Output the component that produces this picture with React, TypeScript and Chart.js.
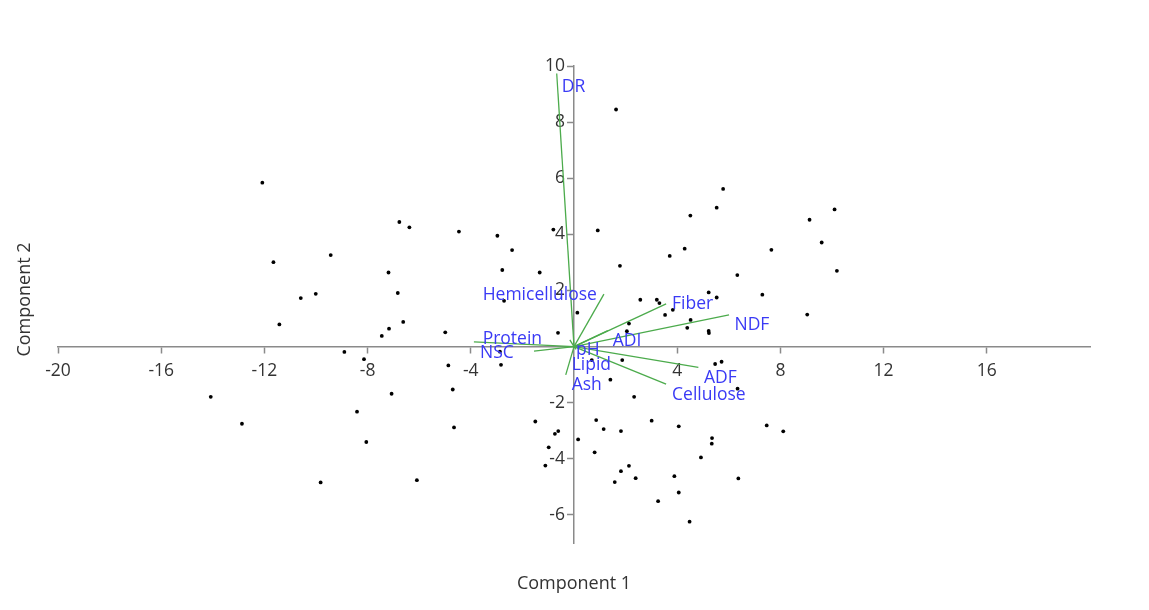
import React, { useEffect, useRef } from "react";
import { Chart, registerables } from "chart.js";

Chart.register(...registerables);

// Sample scores (Component 1, Component 2)
const scoreX = [
  -12.08, -11.65, -9.43, -10.59, -10.01, -11.42, -8.9, -8.14, -14.08, -12.87,
  -8.41, -8.05, -9.82, -6.77, -6.38, -4.46, -2.97, -2.4, -0.8, 0.92,
  -7.19, -2.78, -1.33, -6.83, -2.71, 0.13, -6.62, -7.17, -7.45, -4.99,
  -0.62, -2.87, -4.87, -2.83, 5.78, 5.53, 4.51, 4.29, 3.71, 7.65,
  1.78, 6.33, 7.3, 5.22, 5.53, 2.57, 3.21, 3.31, 3.53, 3.83,
  4.52, 4.39, 5.22, 5.23, 2.13, 2.05, 0.69, 1.87, 5.47, 5.72,
  10.1, 9.13, 9.6, 10.19, 9.04, -7.07, -4.7, 1.41, 6.34, 2.33,
  -4.65, -1.5, -0.74, -0.61, 0.16, 0.86, 1.15, 1.82, 3.01, 4.06,
  7.47, 5.35, 5.34, 4.92, -0.98, 0.8, -1.11, 2.13, 1.82, 2.39,
  1.58, 3.89, 4.06, 3.26, 4.48, 6.37, -6.09, 8.11, 1.63,
];
const scoreY = [
  5.84, 3.01, 3.26, 1.73, 1.88, 0.79, -0.19, -0.45, -1.79, -2.75,
  -2.32, -3.4, -4.84, 4.44, 4.25, 4.1, 3.95, 3.44, 4.17, 4.14,
  2.64, 2.73, 2.64, 1.91, 1.63, 1.21, 0.88, 0.64, 0.38, 0.51,
  0.49, -0.18, -0.67, -0.65, 5.62, 4.95, 4.67, 3.49, 3.23, 3.45,
  2.88, 2.55, 1.85, 1.93, 1.75, 1.67, 1.67, 1.55, 1.13, 1.31,
  0.95, 0.67, 0.56, 0.48, 0.82, 0.55, -0.48, -0.48, -0.62, -0.54,
  4.89, 4.52, 3.71, 2.7, 1.14, -1.68, -1.53, -1.18, -1.5, -1.79,
  -2.88, -2.67, -3.11, -3.01, -3.31, -2.62, -2.94, -3.01, -2.64, -2.84,
  -2.81, -3.26, -3.46, -3.95, -3.59, -3.77, -4.24, -4.25, -4.44, -4.69,
  -4.83, -4.62, -5.2, -5.51, -6.24, -4.7, -4.76, -3.02, 8.45,
];

// Variable loadings (biplot vectors)
const variableNames = [
  "DR", "Hemicellulose", "Fiber", "NDF", "ADI", "Protein",
  "NSC", "pH", "Lipid", "Ash", "ADF", "Cellulose",
];
const loadingX = [-0.67, 1.16, 3.57, 6.01, 1.31, -3.88, -1.55, -0.16, 0.08, -0.32, 4.82, 3.57];
const loadingY = [9.73, 1.87, 1.52, 1.13, 0.57, 0.17, -0.16, 0.24, -0.1, -1.01, -0.74, -1.34];
// Where each variable name sits (data coordinates, left edge / middle)
const labelAnchorX = [-0.47, -3.54, 3.8, 6.22, 1.5, -3.54, -3.64, 0.08, -0.09, -0.09, 5.04, 3.8];
const labelAnchorY = [9.26, 1.85, 1.51, 0.78, 0.2, 0.28, -0.24, -0.12, -0.65, -1.37, -1.11, -1.73];

const xTicks = [-20, -16, -12, -8, -4, 4, 8, 12, 16];
const yTicks = [-6, -4, -2, 2, 4, 6, 8, 10];

const xTitle = "Component 1";
const yTitle = "Component 2";

const FONT = '"Open Sans", "Noto Sans", sans-serif';
const AXIS_COLOR = "#8a8a8a";
const TEXT_COLOR = "#333333";
const VECTOR_COLOR = "#4cab4c";
const LABEL_COLOR = "#3a3af5";

export default function App() {
  const canvasRef = useRef<HTMLCanvasElement | null>(null);

  useEffect(() => {
    const canvas = canvasRef.current;
    if (!canvas) return;

    const vectorDatasets = variableNames.map((name, i) => ({
      label: name,
      data: [
        { x: 0, y: 0 },
        { x: loadingX[i], y: loadingY[i] },
      ],
      showLine: true,
      borderColor: VECTOR_COLOR,
      borderWidth: 1.3,
      pointRadius: 0,
      fill: false,
      order: 2,
    }));

    const labelPlugin = {
      id: "vectorLabels",
      afterDatasetsDraw(chart: any) {
        const { ctx, scales } = chart;
        ctx.save();
        ctx.font = `17.5px ${FONT}`;
        ctx.fillStyle = LABEL_COLOR;
        ctx.textAlign = "left";
        ctx.textBaseline = "middle";
        variableNames.forEach((name, i) => {
          const px = scales.x.getPixelForValue(labelAnchorX[i]);
          const py = scales.y.getPixelForValue(labelAnchorY[i]);
          ctx.fillText(name, px, py);
        });
        ctx.restore();
      },
    };

    const titlePlugin = {
      id: "axisTitles",
      afterDraw(chart: any) {
        const { ctx, chartArea } = chart;
        ctx.save();
        ctx.font = `18px ${FONT}`;
        ctx.fillStyle = TEXT_COLOR;
        ctx.textAlign = "center";
        ctx.textBaseline = "alphabetic";
        const cx = chart.scales.x.getPixelForValue(0);
        ctx.fillText(xTitle, cx, chart.height - 21);
        ctx.translate(30, (chartArea.top + chartArea.bottom) / 2 - 5);
        ctx.rotate(-Math.PI / 2);
        ctx.fillText(yTitle, 0, 0);
        ctx.restore();
      },
    };

    const chart = new Chart(canvas, {
      type: "scatter",
      data: {
        datasets: [
          {
            label: "Scores",
            data: scoreX.map((x, i) => ({ x, y: scoreY[i] })),
            backgroundColor: "#000000",
            borderColor: "#000000",
            pointRadius: 1.9,
            pointBorderWidth: 0,
            order: 1,
          },
          ...vectorDatasets,
        ],
      },
      options: {
        responsive: false,
        animation: false,
        devicePixelRatio: 1,
        layout: { padding: { left: 58, right: 59, top: 66, bottom: 67 } },
        plugins: {
          legend: { display: false },
          tooltip: { enabled: false },
          title: { display: false },
        },
        scales: {
          x: {
            type: "linear",
            min: -20,
            max: 20,
            position: { y: 0 },
            afterBuildTicks: (scale: any) => {
              scale.ticks = xTicks.map((v) => ({ value: v }));
            },
            grid: {
              display: true,
              drawOnChartArea: false,
              drawTicks: true,
              tickLength: 6,
              tickColor: AXIS_COLOR,
              tickWidth: 1.5,
            },
            border: { display: true, color: AXIS_COLOR, width: 1.5 },
            ticks: {
              color: TEXT_COLOR,
              font: { family: FONT, size: 17.5 },
              padding: 8,
              maxRotation: 0,
              autoSkip: false,
            },
          },
          y: {
            type: "linear",
            min: -7,
            max: 10,
            position: { x: 0 },
            afterBuildTicks: (scale: any) => {
              scale.ticks = yTicks.map((v) => ({ value: v }));
            },
            grid: {
              display: true,
              drawOnChartArea: false,
              drawTicks: true,
              tickLength: 6,
              tickColor: AXIS_COLOR,
              tickWidth: 1.5,
            },
            border: { display: true, color: AXIS_COLOR, width: 1.5 },
            ticks: {
              color: TEXT_COLOR,
              font: { family: FONT, size: 17.5 },
              padding: 3,
              autoSkip: false,
              // labels sit to the left of the tick marks
              callback: (value: any) => `${value}\u0020\u0020`,
            },
          },
        },
      },
      plugins: [labelPlugin, titlePlugin],
    } as any);

    return () => chart.destroy();
  }, []);

  return (
    <div
      style={{
        position: "fixed",
        left: 0,
        top: 0,
        width: 1149,
        height: 610,
        background: "#ffffff",
      }}
    >
      <canvas ref={canvasRef} width={1149} height={610} />
    </div>
  );
}
